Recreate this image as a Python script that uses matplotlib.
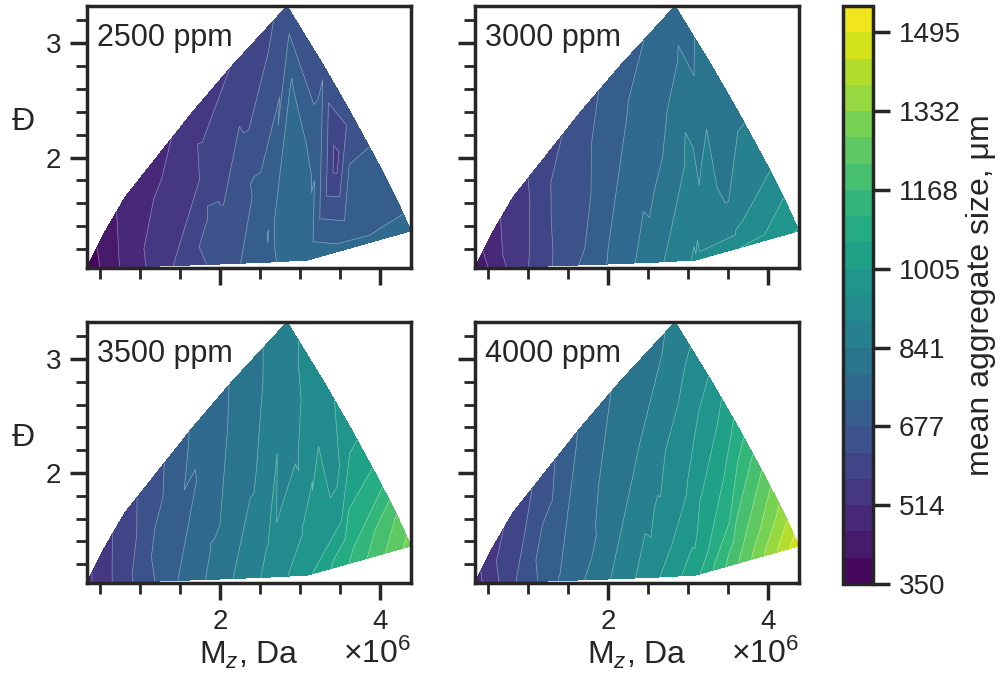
import numpy as np
import matplotlib
matplotlib.use('Agg')
import matplotlib.pyplot as plt
import matplotlib.tri as mtri
from matplotlib.ticker import MultipleLocator, ScalarFormatter
import seaborn as sns

sns.set_theme(style='ticks', context='poster')
plt.rcParams['font.family'] = ['Liberation Sans', 'DejaVu Sans']
plt.rcParams['mathtext.fontset'] = 'custom'
plt.rcParams['mathtext.rm'] = 'Liberation Sans'
plt.rcParams['mathtext.it'] = 'Liberation Sans:italic'
plt.rcParams['xtick.labelsize'] = 20
plt.rcParams['ytick.labelsize'] = 20
plt.rcParams['axes.labelsize'] = 23
plt.rcParams['xtick.major.pad'] = 6.5
plt.rcParams['ytick.major.pad'] = 6.5

# polymer samples: Mz in 1e6 Da and dispersity
mz = [0.3375, 0.80, 1.40, 2.00, 2.60, 3.10,
      0.52, 1.20, 1.90, 2.60, 3.10, 3.60, 4.39,
      0.81, 1.40, 2.00, 2.60, 3.00, 3.50, 4.20,
      1.15, 1.70, 2.30, 3.00, 3.45, 3.98,
      1.66, 2.30, 2.90, 3.20, 3.63,
      2.15, 2.90, 3.30,
      2.84]
disp = [1.035, 1.042, 1.056, 1.070, 1.086, 1.105,
        1.30, 1.30, 1.30, 1.30, 1.30, 1.30, 1.36,
        1.65, 1.65, 1.65, 1.65, 1.65, 1.65, 1.65,
        1.95, 1.95, 1.95, 1.95, 1.95, 1.95,
        2.40, 2.40, 2.40, 2.40, 2.40,
        2.80, 2.80, 2.80,
        3.325]

# mean aggregate size (um) for each flocculant dose
size_2500 = [370, 470, 565, 645, 720, 775,
             420, 540, 650, 735, 780, 715, 765,
             480, 540, 620, 710, 775, 625, 700,
             490, 545, 655, 765, 545, 690,
             540, 600, 765, 680, 650,
             570, 720, 670,
             640]
size_3000 = [420, 530, 640, 735, 825, 905,
             490, 600, 700, 800, 870, 900, 1010,
             540, 650, 720, 790, 860, 835, 950,
             590, 660, 750, 860, 820, 880,
             650, 740, 810, 800, 830,
             710, 800, 810,
             760]
size_3500 = [500, 600, 720, 815, 910, 990,
             540, 690, 790, 900, 990, 1100, 1300,
             600, 700, 780, 870, 930, 980, 1220,
             650, 730, 820, 900, 940, 1080,
             740, 810, 870, 920, 980,
             790, 880, 930,
             880]
size_4000 = [490, 610, 735, 835, 940, 1040,
             550, 700, 800, 910, 1010, 1200, 1480,
             580, 700, 810, 900, 960, 1090, 1360,
             640, 740, 840, 950, 1060, 1250,
             740, 820, 910, 970, 1080,
             800, 890, 960,
             850]

doses = ['2500 ppm', '3000 ppm', '3500 ppm', '4000 ppm']
sizes = [size_2500, size_3000, size_3500, size_4000]

levels = np.linspace(350, 1550, 23)
tri = mtri.Triangulation(np.array(mz) * 1e6, np.array(disp))

fig = plt.figure(figsize=(10.05, 6.79), dpi=100)
W, H = 1005, 679
boxes = [(87, 6, 411, 268), (475, 6, 799, 268),
         (87, 322, 411, 583), (475, 322, 799, 583)]

for i, (x0, y0, x1, y1) in enumerate(boxes):
    ax = fig.add_axes([x0 / W, (H - y1) / H, (x1 - x0) / W, (y1 - y0) / H])
    cs = ax.tricontourf(tri, sizes[i], levels=levels, cmap='viridis')
    ax.tricontour(tri, sizes[i], levels=levels, colors='white',
                  linewidths=0.5, alpha=0.4)
    ax.set_xlim(0.3375e6, 4.39e6)
    ax.set_ylim(1.035, 3.325)
    ax.xaxis.set_major_locator(MultipleLocator(2e6))
    ax.xaxis.set_minor_locator(MultipleLocator(0.5e6))
    ax.yaxis.set_major_locator(MultipleLocator(1))
    ax.yaxis.set_minor_locator(MultipleLocator(0.2))
    fmt = ScalarFormatter(useMathText=True)
    fmt.set_powerlimits((-3, 3))
    ax.xaxis.set_major_formatter(fmt)
    ax.xaxis.get_offset_text().set_fontsize(23)
    ax.text(0.03, 0.935, doses[i], transform=ax.transAxes, fontsize=22,
            ha='left', va='top', color='.15')
    if i < 2:
        ax.tick_params(axis='x', which='both', labelbottom=False)
        ax.xaxis.get_offset_text().set_visible(False)
    else:
        ax.set_xlabel('M$_z$, Da')
    if i % 2 == 1:
        ax.tick_params(axis='y', which='both', labelleft=False)
    else:
        ax.set_ylabel('Đ', rotation=0, labelpad=16)

cax = fig.add_axes([843 / W, (H - 584) / H, 30 / W, 578 / H])
cb = fig.colorbar(cs, cax=cax, ticks=levels[::3], format='%.0f')
cb.set_label('mean aggregate size, μm')

fig.savefig('out.png', dpi=100)
